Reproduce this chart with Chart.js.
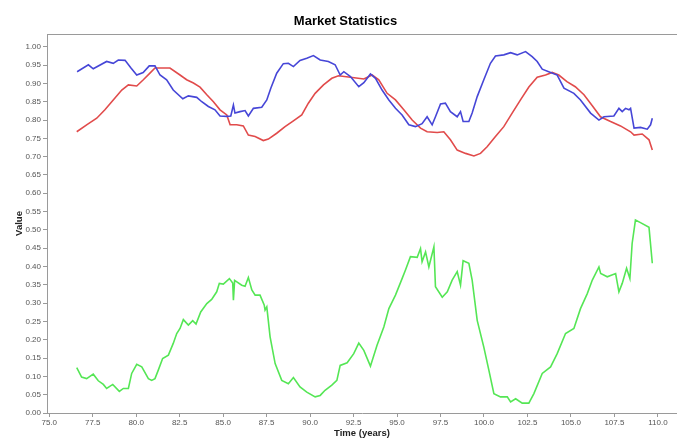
<!DOCTYPE html>
<html>
<head>
<meta charset="utf-8">
<script src="https://cdn.jsdelivr.net/npm/chart.js@4.4.1/dist/chart.umd.min.js"></script>
<style>
  body { margin: 0; background: #fff; }
  #wrap { width: 677px; height: 439px; }
</style>
</head>
<body>
<div id="wrap"><canvas id="chart" width="677" height="439"></canvas></div>
<script>
// values
const xTicks = [75, 77.5, 80, 82.5, 85, 87.5, 90, 92.5, 95, 97.5, 100, 102.5, 105, 107.5, 110];
const yTicks = [0, 0.05, 0.1, 0.15, 0.2, 0.25, 0.3, 0.35, 0.4, 0.45, 0.5, 0.55, 0.6, 0.65, 0.7, 0.75, 0.8, 0.85, 0.9, 0.95, 1.0];

const blueTime = [76.6, 77.25, 77.53, 78.3, 78.68, 78.97, 79.36, 79.7, 80.03, 80.4,
    80.75, 81.08, 81.37, 81.75, 82.13, 82.68, 83.0, 83.48, 83.77, 84.15,
    84.53, 84.82, 85.2, 85.44, 85.59, 85.68, 85.97, 86.26, 86.45, 86.74,
    87.22, 87.51, 87.74, 88.08, 88.46, 88.75, 89.04, 89.42, 89.81, 90.19,
    90.58, 91.05, 91.44, 91.73, 91.94, 92.32, 92.8, 93.09, 93.47, 93.76,
    94.14, 94.53, 94.91, 95.29, 95.68, 96.06, 96.44, 96.73, 97.02, 97.21,
    97.5, 97.78, 98.07, 98.46, 98.65, 98.8, 99.13, 99.32, 99.61, 99.99,
    100.37, 100.66, 101.14, 101.53, 101.91, 102.39, 102.77, 103.06, 103.35, 103.83,
    104.21, 104.6, 105.17, 105.55, 106.13, 106.61, 106.9, 107.47, 107.76, 107.95,
    108.14, 108.34, 108.43, 108.63, 109.0, 109.39, 109.58, 109.68];
const blueValue = [0.932, 0.951, 0.94, 0.96, 0.955, 0.964, 0.963, 0.942, 0.923, 0.93,
    0.948, 0.948, 0.923, 0.91, 0.882, 0.858, 0.866, 0.862, 0.85, 0.837,
    0.828, 0.811, 0.81, 0.811, 0.841, 0.819, 0.823, 0.826, 0.811, 0.832,
    0.835, 0.855, 0.887, 0.928, 0.954, 0.955, 0.946, 0.963, 0.969, 0.976,
    0.964, 0.96, 0.951, 0.923, 0.932, 0.919, 0.891, 0.902, 0.926, 0.914,
    0.882, 0.855, 0.832, 0.814, 0.787, 0.782, 0.79, 0.809, 0.787, 0.809,
    0.844, 0.846, 0.823, 0.809, 0.823, 0.796, 0.796, 0.819, 0.864, 0.91,
    0.955, 0.975, 0.978, 0.984, 0.978, 0.987, 0.973, 0.96, 0.939, 0.93,
    0.923, 0.887, 0.873, 0.855, 0.819, 0.8, 0.809, 0.811, 0.832, 0.823,
    0.832, 0.828, 0.832, 0.778, 0.78, 0.775, 0.787, 0.805];

const redTime = [76.58, 77.15, 77.73, 78.2, 78.68, 79.17, 79.55, 80.03, 80.41, 80.79,
    81.08, 81.37, 81.94, 82.52, 82.9, 83.29, 83.67, 84.06, 84.44, 84.82,
    85.21, 85.4, 85.78, 86.16, 86.45, 86.84, 87.31, 87.6, 88.08, 88.56,
    89.04, 89.52, 89.9, 90.29, 90.77, 91.25, 91.63, 92.32, 93.09, 93.57,
    93.95, 94.43, 94.91, 95.39, 95.87, 96.35, 96.73, 97.31, 97.69, 98.07,
    98.46, 98.94, 99.42, 99.8, 100.18, 100.66, 101.14, 101.62, 102.1, 102.58,
    103.06, 103.54, 103.92, 104.3, 104.77, 105.25, 105.75, 106.23, 106.7, 107.28,
    107.85, 108.43, 108.63, 109.1, 109.49, 109.68];
const redValue = [0.768, 0.787, 0.805, 0.828, 0.855, 0.882, 0.896, 0.893, 0.91, 0.928,
    0.942, 0.942, 0.942, 0.923, 0.91, 0.901, 0.89, 0.869, 0.85, 0.828,
    0.814, 0.787, 0.787, 0.784, 0.759, 0.755, 0.744, 0.748, 0.764, 0.782,
    0.798, 0.814, 0.846, 0.873, 0.896, 0.914, 0.921, 0.917, 0.912, 0.923,
    0.91, 0.873, 0.855, 0.828, 0.8, 0.778, 0.768, 0.766, 0.768, 0.746,
    0.718, 0.709, 0.702, 0.709, 0.727, 0.755, 0.782, 0.819, 0.855, 0.89,
    0.917, 0.923, 0.93, 0.923, 0.905, 0.891, 0.869, 0.839, 0.809, 0.796,
    0.784, 0.768, 0.759, 0.762, 0.746, 0.718];

const greenTime = [76.58, 76.86, 77.15, 77.53, 77.82, 78.11, 78.3, 78.65, 79.03, 79.26,
    79.55, 79.74, 80.03, 80.32, 80.7, 80.89, 81.08, 81.27, 81.52, 81.85,
    82.13, 82.33, 82.52, 82.71, 83.0, 83.25, 83.44, 83.71, 84.06, 84.34,
    84.63, 84.78, 85.01, 85.36, 85.55, 85.59, 85.66, 86.07, 86.26, 86.45,
    86.65, 86.84, 87.12, 87.36, 87.41, 87.51, 87.7, 87.99, 88.37, 88.75,
    89.04, 89.42, 89.81, 90.29, 90.58, 90.86, 91.25, 91.54, 91.73, 92.13,
    92.51, 92.8, 93.09, 93.47, 93.85, 94.24, 94.53, 94.91, 95.29, 95.48,
    95.77, 96.16, 96.35, 96.44, 96.64, 96.83, 97.12, 97.21, 97.6, 97.89,
    98.17, 98.46, 98.65, 98.8, 99.13, 99.32, 99.61, 99.99, 100.28, 100.57,
    100.95, 101.34, 101.53, 101.82, 102.2, 102.58, 102.87, 103.35, 103.83, 104.21,
    104.69, 105.17, 105.55, 105.94, 106.23, 106.61, 106.71, 107.09, 107.57, 107.76,
    107.95, 108.2, 108.39, 108.52, 108.71, 109.0, 109.49, 109.68];
const greenValue = [0.124, 0.098, 0.094, 0.106, 0.088, 0.078, 0.067, 0.078, 0.059, 0.067,
    0.067, 0.108, 0.133, 0.126, 0.094, 0.089, 0.094, 0.117, 0.149, 0.158,
    0.19, 0.217, 0.231, 0.255, 0.24, 0.252, 0.243, 0.276, 0.299, 0.31,
    0.331, 0.354, 0.352, 0.367, 0.355, 0.308, 0.362, 0.349, 0.346, 0.37,
    0.336, 0.322, 0.322, 0.295, 0.281, 0.29, 0.208, 0.135, 0.089, 0.08,
    0.097, 0.071, 0.057, 0.044, 0.048, 0.062, 0.076, 0.089, 0.13, 0.137,
    0.162, 0.191, 0.171, 0.128, 0.185, 0.235, 0.285, 0.322, 0.367, 0.39,
    0.427, 0.425, 0.449, 0.413, 0.44, 0.399, 0.454, 0.345, 0.316, 0.331,
    0.363, 0.386, 0.349, 0.416, 0.409, 0.363, 0.253, 0.18, 0.117, 0.053,
    0.044, 0.044, 0.03, 0.039, 0.027, 0.027, 0.053, 0.108, 0.126, 0.162,
    0.217, 0.231, 0.285, 0.326, 0.363, 0.399, 0.381, 0.372, 0.381, 0.331,
    0.354, 0.395, 0.367, 0.463, 0.527, 0.52, 0.507, 0.409];

function toPoints(times, values) {
    return times.map((t, i) => ({ x: t, y: values[i] }));
}

const axisGray = '#9a9a9a';
const tickFont = { family: 'Liberation Sans', size: 8 };

// thin line along the top of the plot area
const topBorder = {
    id: 'topBorder',
    afterDraw(chart) {
        const { ctx, chartArea } = chart;
        ctx.save();
        ctx.strokeStyle = axisGray;
        ctx.lineWidth = 1;
        ctx.beginPath();
        ctx.moveTo(chartArea.left, Math.round(chartArea.top) + 0.5);
        ctx.lineTo(chartArea.right, Math.round(chartArea.top) + 0.5);
        ctx.stroke();
        ctx.restore();
    }
};

function lineSet(label, times, values, color) {
    return {
        label: label,
        data: toPoints(times, values),
        borderColor: color,
        borderWidth: 1.6,
        pointRadius: 0,
        fill: false,
        tension: 0
    };
}

new Chart(document.querySelector('#chart').getContext('2d'), {
    type: 'line',
    data: {
        datasets: [
            lineSet('Series 1', blueTime, blueValue, 'rgb(70, 70, 215)'),
            lineSet('Series 2', redTime, redValue, 'rgb(225, 75, 75)'),
            lineSet('Series 3', greenTime, greenValue, 'rgb(85, 230, 85)')
        ]
    },
    options: {
        responsive: false,
        animation: false,
        devicePixelRatio: 1,
        layout: { padding: { left: 14, right: 0, top: 0, bottom: 0 }, autoPadding: false },
        plugins: {
            legend: { display: false },
            tooltip: { enabled: false },
            title: {
                display: true,
                text: 'Market Statistics',
                color: '#000',
                font: { family: 'Liberation Sans', size: 13, weight: 'bold' },
                padding: { top: 13.2, bottom: 5.2 }
            }
        },
        scales: {
            x: {
                type: 'linear',
                min: 74.87,
                max: 111.1,
                afterBuildTicks: scale => { scale.ticks = xTicks.map(v => ({ value: v })); },
                afterFit: scale => { scale.height = 26; },
                ticks: {
                    color: '#555',
                    font: tickFont,
                    padding: 1,
                    maxRotation: 0,
                    autoSkip: false,
                    callback: v => Number(v).toFixed(1)
                },
                grid: { drawOnChartArea: false, drawTicks: true, tickLength: 4, color: axisGray },
                border: { display: true, color: axisGray },
                title: {
                    display: true,
                    text: 'Time (years)',
                    color: '#222',
                    font: { family: 'Liberation Sans', size: 9.5, weight: 'bold' },
                    padding: 0
                }
            },
            y: {
                type: 'linear',
                min: 0,
                max: 1.035,
                afterBuildTicks: scale => { scale.ticks = yTicks.map(v => ({ value: v })); },
                afterFit: scale => { scale.width = 33; },
                ticks: {
                    color: '#555',
                    font: tickFont,
                    padding: 2,
                    autoSkip: false,
                    callback: v => Number(v).toFixed(2)
                },
                grid: { drawOnChartArea: false, drawTicks: true, tickLength: 4, color: axisGray },
                border: { display: true, color: axisGray },
                title: {
                    display: true,
                    text: 'Value',
                    color: '#222',
                    font: { family: 'Liberation Sans', size: 9.5, weight: 'bold' },
                    padding: 0
                }
            }
        }
    },
    plugins: [topBorder]
});
</script>
</body>
</html>
